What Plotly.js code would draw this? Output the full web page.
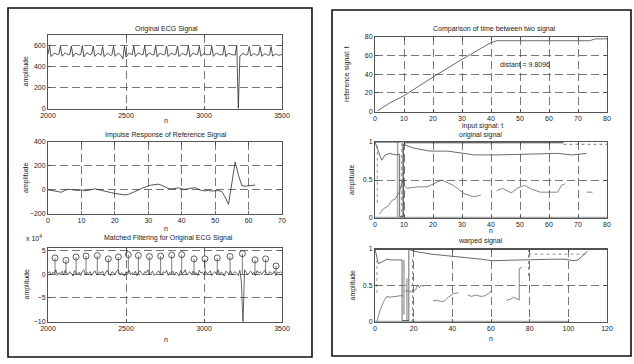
<!DOCTYPE html>
<html>
<head>
<meta charset="utf-8">
<script src="https://cdn.plot.ly/plotly-3.0.1.min.js"></script>
<style>html,body{margin:0;padding:0;background:#fff}#chart{width:634px;height:364px}</style>
</head>
<body>
<div id="chart"></div>
<script>
// ---------------- DATA ----------------
// Original ECG signal, samples n = 2000..3500 every 10
const ecgStart = 2000, ecgStep = 10;
const ecgValues = [
 515,590,492,512,524,518,510,514,588,495,
 510,526,516,508,512,592,490,515,522,514,
 506,511,595,488,514,528,517,509,513,590,
 493,512,523,512,505,585,490,508,520,514,
 502,508,588,494,510,524,512,498,470,592,
 486,512,525,516,508,590,492,514,526,518,
 510,512,594,490,515,524,515,508,511,596,
 489,513,522,514,507,512,591,492,511,525,
 516,509,513,593,491,512,523,515,507,510,
 597,488,514,526,517,510,512,590,494,513,
 522,515,507,511,509,588,493,512,524,515,
 508,510,506,594,490,514,523,514,507,509,
 505,598,0,496,513,521,514,506,511,586,
 495,510,520,512,504,509,585,494,509,518,
 511,503,507,584,496,508,517,510,503,508,
 512
];
// Impulse response of reference signal, n = 0..62
const impulseValues = [
 0,-5,-8,-15,-20,-5,5,2,-3,-6,
 0,-8,-4,3,8,2,-6,-12,-18,-24,
 -30,-35,-40,-42,-38,-28,-15,-2,12,25,
 32,40,45,47,38,22,12,8,14,16,
 8,4,10,15,18,5,-6,-8,-5,-10,
 -8,-6,-15,-60,-120,60,230,120,35,30,
 32,38,40
];
// Matched filter output (x 10^4), n = 2000..3500 every 10
const mfValues = [
 0.2,0.5,-0.2,0.4,0.1,0.9,-0.3,0.3,0.0,0.6,
 -0.2,0.8,0.2,-0.1,0.5,0.1,-0.4,0.7,0.2,0.0,
 0.4,-0.3,0.6,0.9,-0.2,0.3,0.1,0.5,-0.3,0.2,
 0.7,0.0,-0.2,0.4,0.2,0.6,-0.4,0.3,0.8,0.1,
 -0.3,0.5,0.2,0.0,0.6,0.9,-0.2,0.3,0.1,-0.4,
 0.5,0.2,0.8,-0.1,0.3,0.0,0.6,-0.3,0.4,0.7,
 0.1,-0.2,0.5,0.3,0.9,-0.1,0.2,0.6,-0.3,0.1,
 0.4,0.7,0.0,-0.2,0.5,0.2,0.8,-0.3,0.3,0.1,
 0.6,-0.1,0.4,0.2,-0.4,0.7,0.1,0.3,0.9,-0.2,
 0.2,0.5,-0.1,0.6,0.0,0.3,-0.3,0.8,0.2,0.4,
 -0.2,0.6,0.1,0.3,0.7,-0.3,0.2,0.5,0.0,0.9,
 -0.1,0.4,0.2,-0.4,0.6,0.3,0.0,0.7,-0.2,0.3,
 0.5,0.1,-0.3,0.8,-1.8,-10.5,0.9,0.4,-0.2,0.3,
 0.6,0.0,0.4,-0.3,0.7,0.2,0.5,-0.1,0.3,0.8,
 0.1,-0.2,0.5,0.3,0.0,0.6,-0.3,0.4,0.2,0.5,
 0.1
];
const peakN = [2045,2115,2180,2244,2316,2387,2451,2515,2579,2650,2722,2793,2857,2936,3006,3085,3167,3246,3327,3395,3462];
const peakVal = [3.4,2.9,3.6,3.8,3.9,3.2,3.6,4.1,3.9,3.7,3.8,4.0,4.1,3.2,3.2,3.4,3.7,4.3,3.0,3.2,1.7];

// Warping path (comparison of time between two signals)
const pathInput = [1,5,10,20,30,40,42,50,60,70,74,76,80];
const pathRef   = [1,9,17,37,56,74,76,76,76,76,76,78,78];
const distantText = "distant = 9.8096";

// Original signal (features)
const origTopX = [0,9,null,10,65];
const origTopY = [1,1,null,0.99,0.99];
const origTopDotX = [65,80];
const origTopDotY = [0.97,0.97];
const origUpperX = [0,1.2,2.3,3.5,5.2,7,8.5,8.5,9.8,9.8,13.3,19,25,30.7,34,42,54,63,68,73];
const origUpperY = [1,0.88,0.76,0.83,0.85,0.83,0.84,0.02,0.02,0.97,0.92,0.88,0.88,0.85,0.83,0.83,0.84,0.85,0.83,0.85];
const origLowerX = [1.5,2.9,4.6,5.8,7,8.5,9.5,9.5,11,14.5,18,20.3,23,27,30.7,34,36.5,null,42,44,47,49,51.5,54,57,60,63,64.3,65.5,null,73,75];
const origLowerY = [0.05,0.12,0.16,0.23,0.25,0.35,0.5,0.45,0.39,0.41,0.41,0.45,0.5,0.43,0.32,0.28,0.30,null,0.36,0.39,0.33,0.39,0.43,0.38,0.34,0.34,0.34,0.43,0.45,null,0.34,0.34];
const origDotX = [0.8,0.8,null,9.2,9.2];
const origDotY = [0.2,0.95,null,0,1];
const origGrayX = [0,80,null,7.8,7.8,null,9.6,9.6];
const origGrayY = [0.005,0.005,null,0,1,null,0,1];

// Warped signal
const warpTopX = [0,120];
const warpTopY = [0.995,0.995];
const warpUpperX = [0,1.7,3.5,6,8.6,13,14,14,17.5,17.5,20,29,40,46.6,55,60.4,72.5,79.4,91.5,98.4,102,105,109,110];
const warpUpperY = [1,0.8,0.82,0.86,0.85,0.85,0.85,0.02,0.02,1.0,0.97,0.93,0.9,0.89,0.86,0.84,0.85,0.86,0.86,0.86,0.84,0.85,0.95,0.97];
const warpLowerX = [1,2.6,4.3,6,7.8,10,13,14.5,null,15.5,17,19,21,22,23,24,25,null,30,32,34,36,38,40.6,43,null,48,50,52,53.5,55,57,59.6,60.4,null,68,70,71.7,74.6,74.6,76];
const warpLowerY = [0.01,0.16,0.27,0.35,0.34,0.35,0.36,0.36,null,0.42,0.43,0.41,0.44,0.5,0.47,0.51,0.48,null,0.29,0.3,0.28,0.29,0.34,0.39,0.4,null,0.37,0.35,0.37,0.36,0.35,0.36,0.41,0.44,null,0.3,0.31,0.34,0.3,0.73,0.75];
const warpDotX = [79.4,79.4,null,79.4,109,null,1,1,null,19.4,19.4];
const warpDotY = [1.0,0.6,null,0.93,0.93,null,0.85,0.4,null,0,0.9];
const warpGrayX = [0,100,null,15,15,null,16.5,16.5];
const warpGrayY = [0.005,0.005,null,0.1,0.85,null,0,0.6];

// Text
const titles = ["Original ECG Signal","Impulse Response of Reference Signal","Matched Filtering for Original ECG Signal",
                "Comparison of time between two signal","original signal","warped signal"];

// ---------------- BUILD ----------------
const ecgX = ecgValues.map((_, i) => ecgStart + i * ecgStep);
const mfX = mfValues.map((_, i) => ecgStart + i * ecgStep);
const impX = impulseValues.map((_, i) => i);
const stemX = [], stemY = [];
peakN.forEach((n, i) => { stemX.push(n, n, null); stemY.push(0, peakVal[i], null); });

const dark = '#2a2a2a';
function ln(x, y, xa, ya, color, width, dash) {
  return {x, y, xaxis: xa, yaxis: ya, type: 'scatter', mode: 'lines',
          line: {color: color || dark, width: width || 0.8, dash: dash || 'solid'},
          hoverinfo: 'skip', connectgaps: false};
}
const traces = [
  ln(ecgX, ecgValues, 'x', 'y', dark, 0.8),
  ln(impX, impulseValues, 'x2', 'y2', dark, 0.8),
  ln(mfX, mfValues, 'x3', 'y3', dark, 0.7),
  ln(stemX, stemY, 'x3', 'y3', '#444', 0.7),
  {x: peakN, y: peakVal, xaxis: 'x3', yaxis: 'y3', type: 'scatter', mode: 'markers',
   marker: {symbol: 'circle-open', size: 6, color: '#333', line: {width: 0.8, color: '#333'}}, hoverinfo: 'skip'},
  ln(pathInput, pathRef, 'x4', 'y4', '#444', 0.8),
  ln(origGrayX, origGrayY, 'x5', 'y5', '#aaa', 1.6),
  ln(origTopX, origTopY, 'x5', 'y5', '#333', 1),
  ln(origTopDotX, origTopDotY, 'x5', 'y5', '#555', 0.8, 'dot'),
  ln(origUpperX, origUpperY, 'x5', 'y5', '#444', 0.8),
  ln(origLowerX, origLowerY, 'x5', 'y5', '#666', 0.8),
  ln(origDotX, origDotY, 'x5', 'y5', '#777', 0.8, 'dot'),
  ln(warpGrayX, warpGrayY, 'x6', 'y6', '#aaa', 1.6),
  ln(warpTopX, warpTopY, 'x6', 'y6', '#333', 1),
  ln(warpUpperX, warpUpperY, 'x6', 'y6', '#444', 0.8),
  ln(warpLowerX, warpLowerY, 'x6', 'y6', '#666', 0.8),
  ln(warpDotX, warpDotY, 'x6', 'y6', '#777', 0.8, 'dot')
];

const W = 634, H = 364;
const px = v => v / W, py = v => 1 - v / H;
function axBase(extra) {
  return Object.assign({
    showline: true, mirror: 'ticks', linecolor: '#555', linewidth: 1,
    ticks: 'inside', ticklen: 3, tickcolor: '#444', tickwidth: 0.8,
    showgrid: true, gridcolor: '#555', gridwidth: 0.8, griddash: '8px,4px',
    zeroline: false, tickfont: {size: 7, color: '#222'}, fixedrange: true
  }, extra);
}
const L = [48, 282], R = [375, 607];
const boxes = [
  {x: L, y: [34.5, 108.5]},
  {x: L, y: [141.5, 214]},
  {x: L, y: [247.5, 321.5]},
  {x: R, y: [37, 111.5]},
  {x: R, y: [142, 218]},
  {x: R, y: [249, 322]}
];
const layout = {
  width: W, height: H, margin: {l: 0, r: 0, t: 0, b: 0},
  paper_bgcolor: '#fff', plot_bgcolor: '#fff', showlegend: false,
  font: {family: 'Liberation Sans, Arial, sans-serif', size: 7, color: '#222'},
  annotations: [], shapes: []
};
const xr = [[2000,3500],[0,70],[2000,3500],[0,80],[0,80],[0,120]];
const xd = [500,10,500,10,10,20];
const yr = [[0,700],[-200,400],[-10,5.6],[0,80],[0,1],[0,1]];
const yt = [[0,200,400,600],[-200,0,200,400],[-10,-5,0,5],[0,20,40,60,80],[0,0.5,1],[0,0.5,1]];
boxes.forEach((b, i) => {
  const s = i === 0 ? '' : String(i + 1);
  layout['xaxis' + s] = axBase({domain: [px(b.x[0]), px(b.x[1])], range: xr[i], dtick: xd[i], tick0: 0,
                                 anchor: 'y' + s});
  layout['yaxis' + s] = axBase({domain: [py(b.y[1]), py(b.y[0])], range: yr[i], tickvals: yt[i],
                                 anchor: 'x' + s});
});

function ann(text, x, y, opt) {
  layout.annotations.push(Object.assign({text, x: px(x), y: py(y), xref: 'paper', yref: 'paper',
    showarrow: false, xanchor: 'center', yanchor: 'middle', font: {size: 7, color: '#222'}}, opt || {}));
}
// titles
ann(titles[0], 166, 29);
ann(titles[1], 166, 134.5);
ann(titles[2], 168, 237.5);
ann(titles[3], 494, 29);
ann(titles[4], 481, 135);
ann(titles[5], 481, 240.5);
// x labels
ann('n', 166, 120.5);
ann('n', 166, 228.5);
ann('n', 166, 339);
ann('input signal: t', 482, 126);
ann('n', 491, 230);
ann('n', 491, 338);
// y labels
ann('amplitude', 26, 71.5, {textangle: -90});
ann('amplitude', 26, 178, {textangle: -90});
ann('amplitude', 26, 284.5, {textangle: -90});
ann('reference signal: t', 347, 74, {textangle: -90});
ann('amplitude', 352, 180, {textangle: -90});
ann('amplitude', 352, 285.5, {textangle: -90});
// exponent
ann('x 10<sup>4</sup>', 34, 237.5);
// text in plot 4
layout.annotations.push({text: distantText, x: 42.5, y: 50, xref: 'x4', yref: 'y4', showarrow: false,
  xanchor: 'left', yanchor: 'middle', font: {size: 7, color: '#222'}});

// panel frames
function frame(x0, y0, x1, y1) {
  layout.shapes.push({type: 'rect', xref: 'paper', yref: 'paper', x0: px(x0), x1: px(x1), y0: py(y1), y1: py(y0),
    line: {color: '#111', width: 1.6}, fillcolor: 'rgba(0,0,0,0)'});
}
frame(8, 8, 312, 357);
frame(332, 10, 631, 356);

Plotly.newPlot('chart', traces, layout, {staticPlot: true, displayModeBar: false});
</script>
</body>
</html>
